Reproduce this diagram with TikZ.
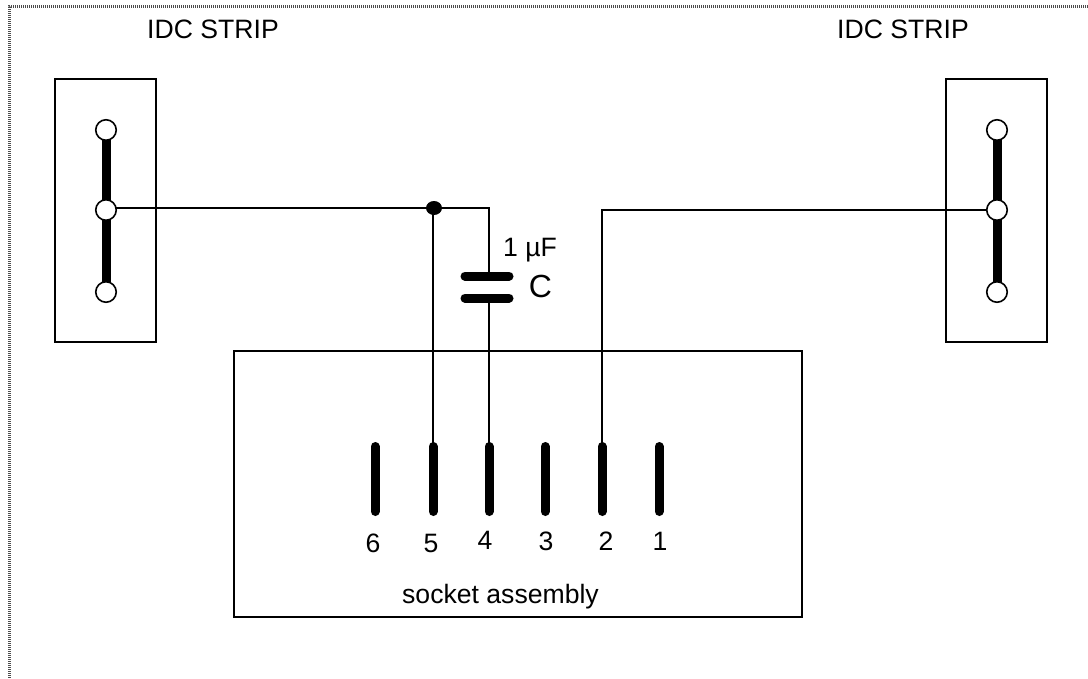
\documentclass[tikz,border=0pt]{standalone}
\usepackage{fontspec}
\usetikzlibrary{backgrounds,shapes.geometric}
\setmainfont{Liberation Sans}
\definecolor{hatch}{gray}{0.3}
\begin{document}
\begin{tikzpicture}[x=1pt,y=-1pt,
  frame/.style={draw=black,line width=1.7pt,inner sep=0pt},
  wire/.style={line width=1.7pt,line join=miter},
  pin/.style={line width=9pt,line cap=round},
  stripbar/.style={line width=9pt},
  terminal/.style={circle,draw=black,fill=white,line width=1.6pt,minimum size=20.5pt,inner sep=0pt,outer sep=0pt},
  junction/.style={ellipse,fill=black,minimum width=16pt,minimum height=14pt,inner sep=0pt},
  lbl/.style={inner sep=0pt,anchor=base,font=\fontsize{26.6}{30}\selectfont},
  lblb/.style={inner sep=0pt,anchor=base,font=\fontsize{32}{36}\selectfont}]
\useasboundingbox (0,0) rectangle (1088,678);
% boxes
\node[frame,minimum width=101pt,minimum height=263pt] (stripL) at (105.5,210.5) {};
\node[frame,minimum width=101pt,minimum height=263pt] (stripR) at (996.5,210.5) {};
\node[frame,minimum width=568pt,minimum height=266pt] (socket) at (518,484) {};
% pins
\foreach \n/\x in {6/375,5/433,4/489,3/545,2/602,1/659}{
  \coordinate (pt\n) at (\x,446.5);
  \coordinate (pb\n) at (\x,511.5);
  \draw[pin] (pt\n) -- (pb\n);
}
% capacitor
\coordinate (capT) at (489,276);
\coordinate (capB) at (489,298);
\coordinate (capTl) at (465,276);
\coordinate (capTr) at (509,276);
\coordinate (capBl) at (465,298);
\coordinate (capBr) at (509,298);
\draw[pin] (capTl) -- (capTr);
\draw[pin] (capBl) -- (capBr);
% terminals
\node[terminal] (lt) at (106,130) {};
\node[terminal] (lm) at (106,210) {};
\node[terminal] (lb) at (106,292) {};
\node[terminal] (rt) at (997,130) {};
\node[terminal] (rm) at (997,210) {};
\node[terminal] (rb) at (997,292) {};
\node[junction] (j5) at (434,208) {};
\coordinate (c4) at (489,208);
\coordinate (c2) at (602,210);
\begin{pgfonlayer}{background}
  \fill[white] (0,0) rectangle (1088,678);
  \draw[hatch,line width=3pt,dash pattern=on 1pt off 1pt] (1088,6) -- (9,6) -- (9,678);
  \draw[stripbar] (lt.center) -- (lm.center) -- (lb.center);
  \draw[stripbar] (rt.center) -- (rm.center) -- (rb.center);
  \draw[wire] (lm |- j5) -- (j5.center) -- (c4) -- (capT);
  \draw[wire] (capB) -- (pt4);
  \draw[wire] (pt5 |- j5) -- (pt5);
  \draw[wire] (pt2) -- (c2) -- (rm.center);
\end{pgfonlayer}
% labels
\node[lbl] (idcL) at (213,38) {IDC STRIP};
\node[lbl] (idcR) at (903,38) {IDC STRIP};
\node[lbl] (val) at (530,256) {1 µF};
\node[lblb] (capC) at (540.5,297) {C};
\node[lbl] (n6) at (373,552) {6};
\node[lbl] (n5) at (431,552) {5};
\node[lbl] (n4) at (485,549) {4};
\node[lbl] (n3) at (546,550) {3};
\node[lbl] (n2) at (606,550) {2};
\node[lbl] (n1) at (660,550) {1};
\node[lbl] (sock) at (500.5,603) {socket assembly};
\end{tikzpicture}
\end{document}
